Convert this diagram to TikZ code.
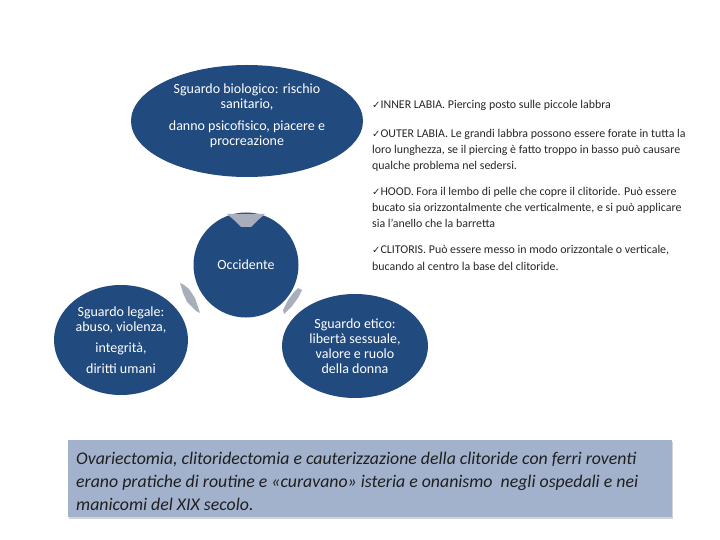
\documentclass[tikz,border=0pt]{standalone}
\usepackage{fontspec}
\setmainfont{Carlito}
\newfontfamily\symfont{DejaVu Sans}
\usetikzlibrary{shapes.geometric,shadows}
\definecolor{ellblue}{HTML}{214A7E}
\definecolor{arrgray}{HTML}{A8AEBC}
\definecolor{boxblue}{HTML}{A2B2CD}
\definecolor{bodytext}{HTML}{262626}
\newcommand{\chk}{{\symfont\fontsize{10}{10}\selectfont ✓}}
\tikzset{
  blob/.style={ellipse, fill=ellblue, draw=none, inner sep=0pt},
  blobtext/.style={text=white, align=center, font=\fontsize{14}{15}\selectfont},
  bullettext/.style={anchor=base west, align=left, text=bodytext, inner sep=0pt, font=\fontsize{11.9}{16.3}\selectfont},
  cyclearrow/.style={fill=arrgray, draw=none}
}
\begin{document}
\begin{tikzpicture}[x=1pt,y=-1pt]
\useasboundingbox (0,0) rectangle (720,540);
% ellipses
\node[blob, minimum width=232pt, minimum height=112pt] (bio) at (247,121) {};
\node[blobtext] (biotext) at (247,116) {Sguardo biologico: rischio\\ sanitario,\\[7pt] danno psicofisico, piacere e\\ procreazione};
\node[blob, circle, minimum size=105pt, blobtext] (occ) at (246,265) {Occidente};
\node[blob, minimum width=134pt, minimum height=110pt, blobtext] (leg) at (121,340) {Sguardo legale:\\ abuso, violenza,\\[6pt] integrità,\\[6pt] diritti umani};
\node[blob, minimum width=146pt, minimum height=104pt, blobtext] (eti) at (355,346) {Sguardo etico:\\ libertà sessuale,\\ valore e ruolo\\ della donna};
% cycle arrows
\fill[cyclearrow] (227,214) -- (265,214) -- (258,220) -- (251,227) -- (241,227) -- (234,220) -- cycle;
\fill[cyclearrow] (180,283) -- (184,285) -- (189,289) -- (195,298) -- (200,313) -- (196,311) -- (187,302) -- (183,293) -- cycle;
\fill[cyclearrow] (298,288) -- (302,290) -- (298,298) -- (292,306) -- (284,314) -- (283,310) -- (288,300) -- (294,292) -- cycle;
% right column (base = baseline of last line)
\node[bullettext] (inner) at (372,109) {\chk INNER LABIA. Piercing posto sulle piccole labbra};
\node[bullettext] (outer) at (372,170) {\chk OUTER LABIA. Le grandi labbra possono essere forate in tutta la\\ loro lunghezza, se il piercing è fatto troppo in basso può causare\\ qualche problema nel sedersi.};
\node[bullettext] (hood) at (372,228) {\chk HOOD. Fora il lembo di pelle che copre il clitoride. Può essere\\ bucato sia orizzontalmente che verticalmente, e si può applicare\\ sia l’anello che la barretta};
\node[bullettext] (clit) at (372,270) {\chk CLITORIS. Può essere messo in modo orizzontale o verticale,\\ bucando al centro la base del clitoride.};
% bottom box
\node[fill=boxblue, minimum width=604pt, minimum height=77pt, inner sep=0pt, drop shadow={opacity=0.35, shadow xshift=1pt, shadow yshift=-2pt}] (box) at (370,478.5) {};
\node[anchor=base west, align=left, inner sep=0pt, text=black!88, font=\itshape\fontsize{17.8}{23}\selectfont] (boxtext) at (76,510) {Ovariectomia, clitoridectomia e cauterizzazione della clitoride con ferri roventi\\ erano pratiche di routine e «curavano» isteria e onanismo\ \ negli ospedali e nei\\ manicomi del XIX secolo.};
\end{tikzpicture}
\end{document}
